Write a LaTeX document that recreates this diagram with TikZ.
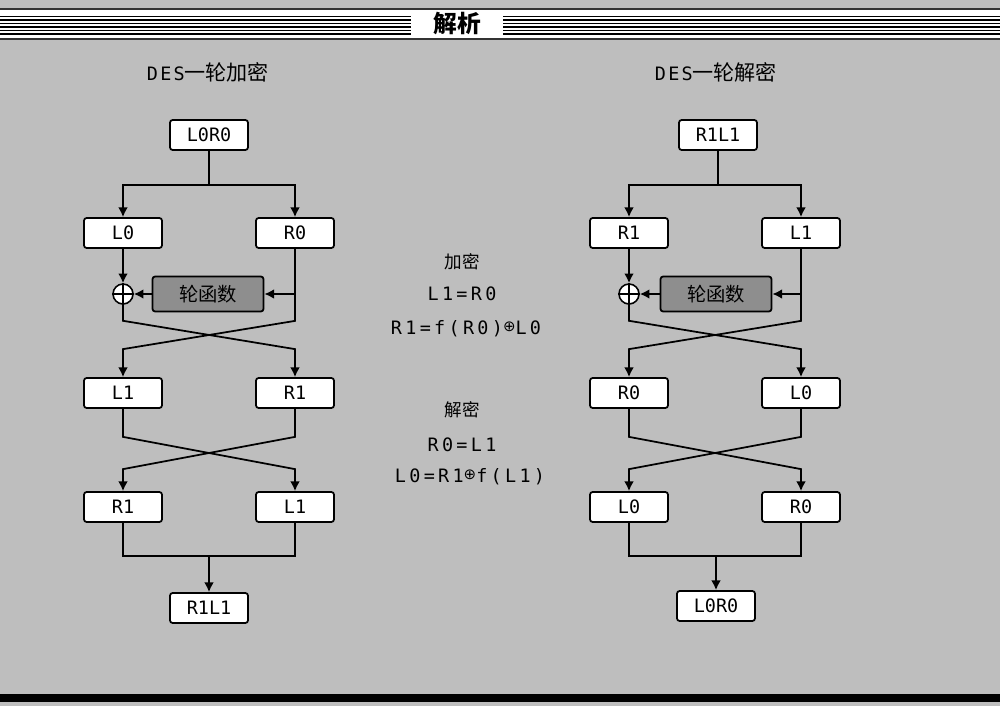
\documentclass[tikz,border=0pt]{standalone}
\usepackage{fontspec}
\setmainfont{DejaVu Sans Mono}
\newfontfamily\headfont[LetterSpace=12.0]{DejaVu Sans Mono}
\newfontfamily\eqfont[LetterSpace=18.0]{DejaVu Sans Mono}
\newfontfamily\cjk{Noto Sans CJK SC}
\newfontfamily\symfont{DejaVu Sans}
\usetikzlibrary{arrows.meta, calc}

\definecolor{bggray}{RGB}{190,190,190}
\definecolor{fungray}{RGB}{142,142,142}
\newcommand{\xorsym}{\raisebox{2pt}{\symfont\fontsize{8.5}{9}\selectfont ⊕}}

\begin{document}
\begin{tikzpicture}[x=0.02cm, y=-0.02cm,
        block/.style={rectangle, draw, line width=1pt, fill=white, rounded corners=1.5pt, minimum width=1.56cm, minimum height=0.6cm, inner sep=0pt, font=\fontsize{10.5}{12}\selectfont},
        func/.style={rectangle, draw, line width=1pt, fill=fungray, rounded corners=1.5pt, minimum width=2.22cm, minimum height=0.7cm, inner sep=0pt, font=\cjk\fontsize{11}{12}\selectfont},
        xor/.style={circle, draw, line width=0.9pt, fill=white, minimum size=0.4cm, inner sep=0pt},
        heading/.style={font=\headfont\fontsize{10.5}{12}\selectfont},
        eqn/.style={font=\eqfont\fontsize{10.5}{12}\selectfont},
        arrow/.style={-{Latex[length=5.5pt,width=5.5pt]}, line width=1pt},
        link/.style={line width=1pt}
    ]
        % Background and frame
        \useasboundingbox (0,0) rectangle (1000,706);
        \fill[bggray] (0,0) rectangle (1000,706);
        \fill[white] (0,9) rectangle (1000,39);
        \draw[line width=1.6pt, black!80] (0,9) -- (1000,9) (0,39) -- (1000,39);
        \draw[line width=0.8pt] (0,16.5) -- (411,16.5) (0,20) -- (411,20) (0,23.5) -- (411,23.5)
            (0,27) -- (411,27) (0,30.5) -- (411,30.5) (0,34) -- (411,34);
        \draw[line width=0.8pt] (503,16.5) -- (1000,16.5) (503,20) -- (1000,20) (503,23.5) -- (1000,23.5)
            (503,27) -- (1000,27) (503,30.5) -- (1000,30.5) (503,34) -- (1000,34);
        \node[font=\cjk\fontsize{13.5}{14}\selectfont] (hd) at (457,24) {\textbf{解析}};
        \fill[black] (0,694) rectangle (1000,702);

        % Encryption round
        \node[heading] (etitle) at (208,72) {DES{\cjk\fontsize{12}{12}\selectfont 一轮加密}};
        \node[block] (eLR) at (209,135) {L0R0};
        \node[block] (eL0) at (123,233) {L0};
        \node[block] (eR0) at (295,233) {R0};
        \node[xor] (eX) at (123,294) {};
        \draw[line width=0.9pt] (eX.north) -- (eX.south) (eX.west) -- (eX.east);
        \node[func] (eF) at (208,294) {轮函数};
        \node[block] (eL1) at (123,393) {L1};
        \node[block] (eR1) at (295,393) {R1};
        \node[block] (eR1b) at (123,507) {R1};
        \node[block] (eL1b) at (295,507) {L1};
        \node[block] (eRL) at (209,608) {R1L1};

        % Encryption connections
        \draw[link] (eLR.south) -- ++(0,34) coordinate (eS);
        \draw[arrow] (eS) -| (eL0.north);
        \draw[arrow] (eS) -| (eR0.north);
        \draw[arrow] (eL0) -- (eX);
        \draw[arrow] (eR0.south |- eF.east) -- (eF.east);
        \draw[arrow] (eF.west) -- (eX.east);
        \draw[arrow] (eR0.south) -- ++(0,72) -- ($(eL1.north)+(0,-28)$) -- (eL1.north);
        \draw[arrow] (eX.south) -- ++(0,16) -- ($(eR1.north)+(0,-28)$) -- (eR1.north);
        \draw[arrow] (eL1.south) -- ++(0,28) -- ($(eL1b.north)+(0,-22)$) -- (eL1b.north);
        \draw[arrow] (eR1.south) -- ++(0,28) -- ($(eR1b.north)+(0,-22)$) -- (eR1b.north);
        \draw[link] (eR1b.south) -- ++(0,33) coordinate (eM) -| (eL1b.south);
        \draw[arrow] (eM -| eRL.north) -- (eRL.north);

        % Formulas
        \node[eqn, font=\cjk\fontsize{10}{12}\selectfont] (encT) at (462,262) {加密};
        \node[eqn] (enc1) at (462,294) {L1=R0};
        \node[eqn] (enc2) at (466,329) {R1=f(R0)\xorsym L0};
        \node[eqn, font=\cjk\fontsize{10}{12}\selectfont] (decT) at (462,410) {解密};
        \node[eqn] (dec1) at (462,445) {R0=L1};
        \node[eqn] (dec2) at (470,477) {L0=R1\xorsym f(L1)};

        % Decryption round
        \node[heading] (dtitle) at (716,72) {DES{\cjk\fontsize{12}{12}\selectfont 一轮解密}};
        \node[block] (dRL) at (718,135) {R1L1};
        \node[block] (dR1) at (629,233) {R1};
        \node[block] (dL1) at (801,233) {L1};
        \node[xor] (dX) at (629,294) {};
        \draw[line width=0.9pt] (dX.north) -- (dX.south) (dX.west) -- (dX.east);
        \node[func] (dF) at (716,294) {轮函数};
        \node[block] (dR0) at (629,393) {R0};
        \node[block] (dL0) at (801,393) {L0};
        \node[block] (dL0b) at (629,507) {L0};
        \node[block] (dR0b) at (801,507) {R0};
        \node[block] (dLR) at (716,606) {L0R0};

        % Decryption connections
        \draw[link] (dRL.south) -- ++(0,34) coordinate (dS);
        \draw[arrow] (dS) -| (dR1.north);
        \draw[arrow] (dS) -| (dL1.north);
        \draw[arrow] (dR1) -- (dX);
        \draw[arrow] (dL1.south |- dF.east) -- (dF.east);
        \draw[arrow] (dF.west) -- (dX.east);
        \draw[arrow] (dL1.south) -- ++(0,72) -- ($(dR0.north)+(0,-28)$) -- (dR0.north);
        \draw[arrow] (dX.south) -- ++(0,16) -- ($(dL0.north)+(0,-28)$) -- (dL0.north);
        \draw[arrow] (dR0.south) -- ++(0,28) -- ($(dR0b.north)+(0,-22)$) -- (dR0b.north);
        \draw[arrow] (dL0.south) -- ++(0,28) -- ($(dL0b.north)+(0,-22)$) -- (dL0b.north);
        \draw[link] (dL0b.south) -- ++(0,33) coordinate (dM) -| (dR0b.south);
        \draw[arrow] (dM -| dLR.north) -- (dLR.north);
    \end{tikzpicture}
\end{document}
